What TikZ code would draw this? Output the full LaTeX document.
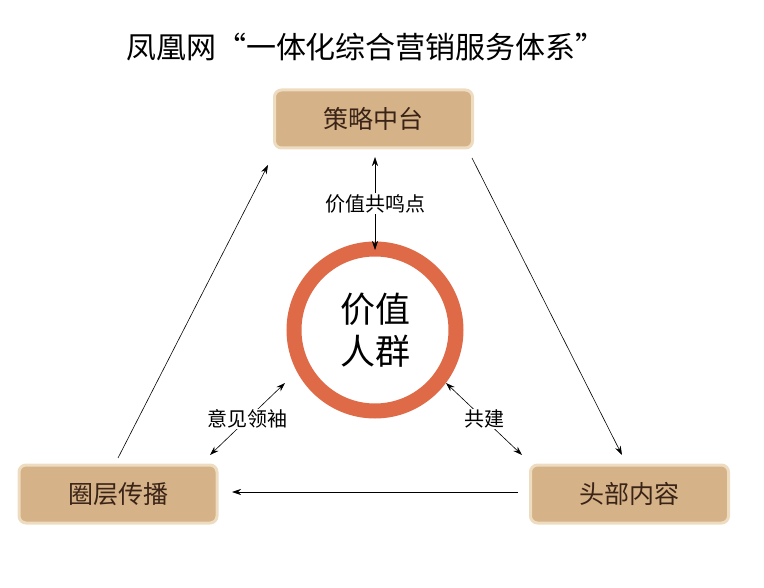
\documentclass[tikz,border=0pt]{standalone}
\usepackage{fontspec}
\setmainfont{Noto Sans CJK SC}
\usetikzlibrary{arrows.meta}
\definecolor{tan}{HTML}{D5B287}
\definecolor{edge}{HTML}{EEDCC0}
\definecolor{ring}{HTML}{DF6A48}
\definecolor{ink}{HTML}{3A2418}
\tikzset{
 box/.style={rounded corners=7pt, fill=tan, draw=edge, line width=3pt, minimum width=198pt, minimum height=58pt, font=\fontsize{25}{25}\selectfont, text=ink},
 link/.style={-{Stealth[length=9pt,width=6pt]}, line width=0.6pt},
 dlink/.style={{Stealth[length=9pt,width=6pt]}-{Stealth[length=9pt,width=6pt]}, line width=0.6pt},
 lbl/.style={fill=white, inner sep=1pt, font=\fontsize{20}{20}\selectfont}
}
\begin{document}
\begin{tikzpicture}[x=1pt,y=-1pt]
\useasboundingbox (0,0) rectangle (764,588);
\node (t) at (366,47) {\fontsize{30}{30}\selectfont 凤凰网“一体化综合营销服务体系”};
\node[box] (s) at (373.5,119) {策略中台};
\node[box] (q) at (118,494) {圈层传播};
\node[box] (h) at (629.5,494) {头部内容};
\draw[ring, line width=15pt] (375,330) circle (81);
\node (c) at (375,330) [align=center, font=\fontsize{35}{42}\selectfont] {价值\\人群};
\coordinate (c1) at (375,250);
\coordinate (c2) at (285,383);
\coordinate (c3) at (446,383);
\coordinate (a1) at (118,458); \coordinate (a2) at (268,165);
\coordinate (b1) at (472,158); \coordinate (b2) at (622,455);
\coordinate (d1) at (518,492); \coordinate (d2) at (232,492);
\coordinate (q2) at (210,455); \coordinate (h2) at (522,455);
\coordinate (s2) at (375,157);
\draw[link] (a1) -- (a2);
\draw[link] (b1) -- (b2);
\draw[link] (d1) -- (d2);
\draw[dlink] (s2) -- (c1) node[midway, lbl] {价值共鸣点};
\draw[dlink] (q2) -- (c2) node[midway, lbl] {意见领袖};
\draw[dlink] (c3) -- (h2) node[midway, lbl] {共建};
\end{tikzpicture}
\end{document}
